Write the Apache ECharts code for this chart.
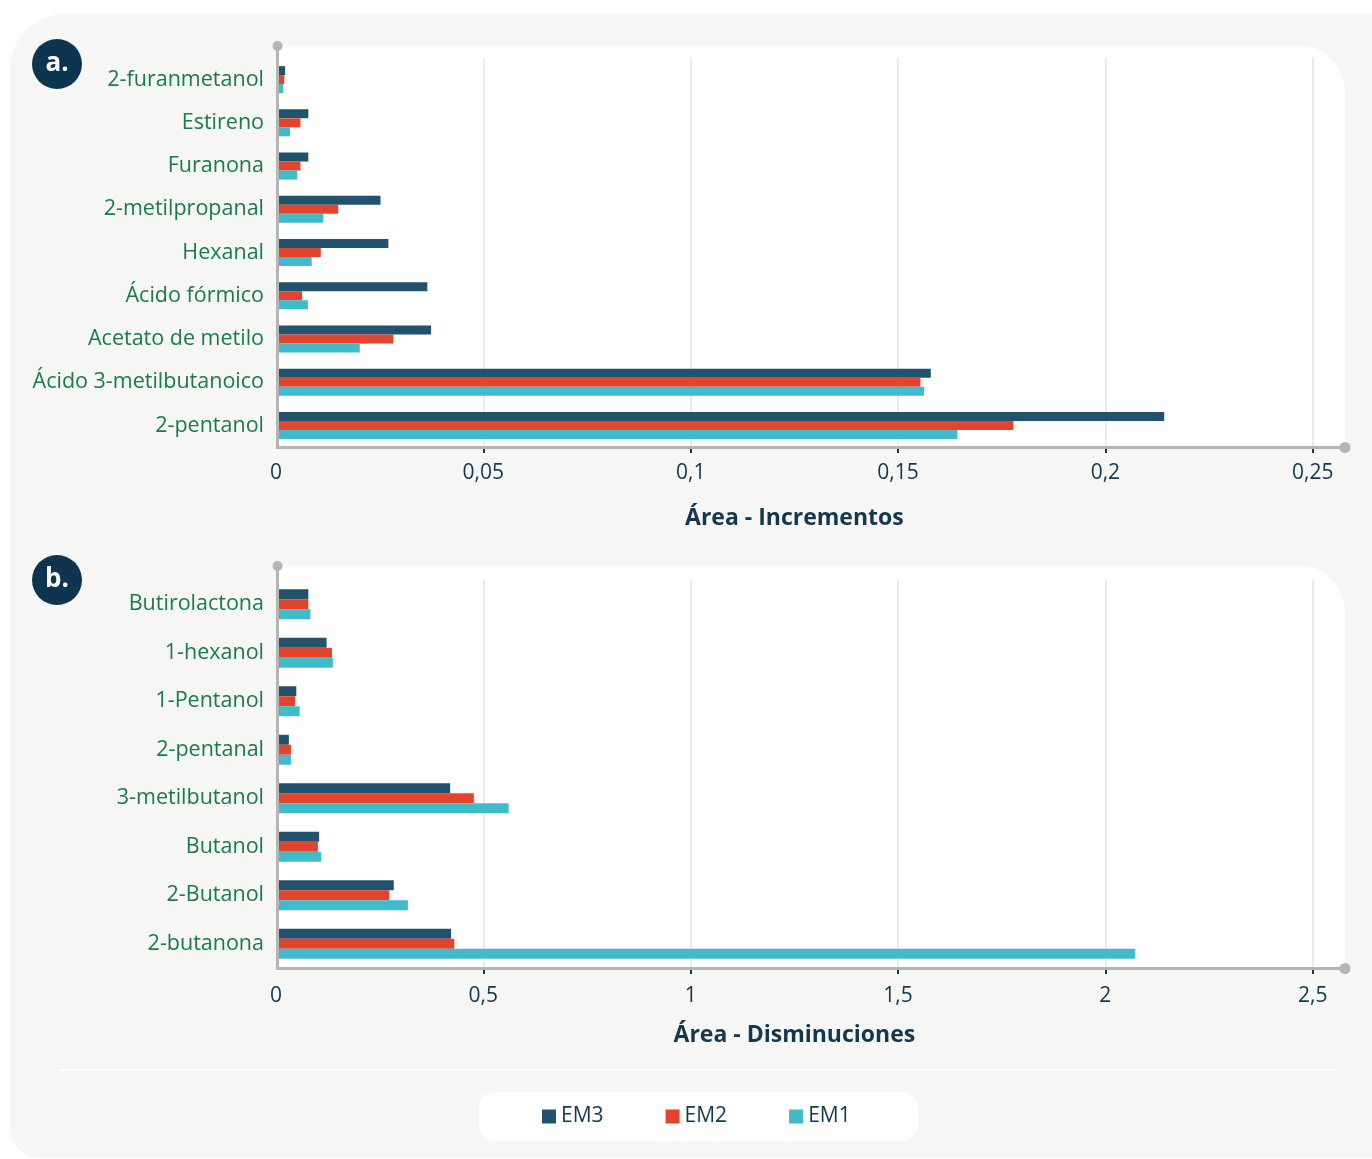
<!DOCTYPE html>
<html>
<head>
<meta charset="utf-8">
<script src="https://cdn.jsdelivr.net/npm/echarts@6/dist/echarts.min.js"></script>
<style>
  html, body { margin: 0; padding: 0; background: #ffffff; }
  #chart { width: 1372px; height: 1159px; }
</style>
</head>
<body>
<div id="chart"></div>
<script>
// ---- data ----
// categories listed bottom-to-top (first category sits on the x axis)
const incCategories = ['2-pentanol', 'Ácido 3-metilbutanoico', 'Acetato de metilo', 'Ácido fórmico',
  'Hexanal', '2-metilpropanal', 'Furanona', 'Estireno', '2-furanmetanol'];
const incEM3 = [0.2142, 0.1579, 0.0374, 0.0365, 0.0271, 0.0252, 0.0078, 0.0078, 0.0022];
const incEM2 = [0.1778, 0.1554, 0.0283, 0.0063, 0.0108, 0.0150, 0.0059, 0.0059, 0.0020];
const incEM1 = [0.1643, 0.1563, 0.0202, 0.0077, 0.0086, 0.0114, 0.0051, 0.0034, 0.0017];

const decCategories = ['2-butanona', '2-Butanol', 'Butanol', '3-metilbutanol',
  '2-pentanal', '1-Pentanol', '1-hexanol', 'Butirolactona'];
const decEM3 = [0.422, 0.284, 0.104, 0.420, 0.031, 0.049, 0.122, 0.078];
const decEM2 = [0.430, 0.273, 0.101, 0.477, 0.036, 0.046, 0.135, 0.078];
const decEM1 = [2.072, 0.318, 0.109, 0.561, 0.036, 0.057, 0.137, 0.083];

const incTicks = [0.05, 0.1, 0.15, 0.2, 0.25];
const decTicks = [0.5, 1, 1.5, 2, 2.5];
const legendOrder = ['EM3', 'EM2', 'EM1'];

const incTitle = 'Área - Incrementos';
const decTitle = 'Área - Disminuciones';

// ---- styling ----
const FONT = '"Open Sans", "Noto Sans", sans-serif';
const COLORS = { EM3: '#23526e', EM2: '#e2452c', EM1: '#3fbbcc' };
const AXIS_GRAY = '#b5b5b5';
const DARK = '#12384f';
const LABEL_GREEN = '#177a50';
const PANEL_GRAY = '#f6f6f4';

// plot geometry
const PLOT_LEFT = 276;
const PLOT_WIDTH = 1036.7;
const AXIS_X = 277.5;
const AXIS_END = 1345;
const A = { top: 58, height: 389, panelTop: 46 };
const B = { top: 580, height: 388, panelTop: 566 };

const fmt = v => String(v).replace('.', ',');

function xAxisFor(gridIndex, max, interval, ticks, name, nameGap, labelMargin) {
  return {
    type: 'value', gridIndex, min: 0, max, interval,
    name, nameLocation: 'middle', nameGap,
    nameTextStyle: { fontFamily: FONT, fontSize: 23, fontWeight: 'bold', color: DARK },
    axisLine: { show: false },
    axisTick: { show: true, length: 6, customValues: ticks, lineStyle: { color: DARK, width: 2 } },
    axisLabel: { fontFamily: FONT, fontSize: 21, color: DARK, margin: labelMargin, formatter: fmt },
    splitLine: { show: true, lineStyle: { color: '#ebebeb', width: 2 } }
  };
}

function yAxisFor(gridIndex, cats) {
  return {
    type: 'category', gridIndex, data: cats,
    axisLine: { show: false }, axisTick: { show: false },
    axisLabel: { fontFamily: FONT, fontSize: 21.5, color: LABEL_GREEN, margin: 12 }
  };
}

function barSeries(name, data, idx, width) {
  return {
    type: 'bar', name, data, xAxisIndex: idx, yAxisIndex: idx,
    barWidth: width, barGap: '0%',
    itemStyle: { color: COLORS[name] },
    emphasis: { disabled: true }
  };
}

function axisFrame(top, height, panelTop) {
  const bottom = top + height;
  return [
    { type: 'rect', z: -10, shape: { x: AXIS_X, y: panelTop, width: AXIS_END - AXIS_X, height: bottom - panelTop, r: [0, 45, 0, 0] },
      style: { fill: '#ffffff' } },
    { type: 'line', z: 100, shape: { x1: AXIS_X, y1: panelTop, x2: AXIS_X, y2: bottom + 0.5 },
      style: { stroke: AXIS_GRAY, lineWidth: 3 } },
    { type: 'line', z: 100, shape: { x1: AXIS_X - 1.5, y1: bottom + 0.5, x2: AXIS_END, y2: bottom + 0.5 },
      style: { stroke: AXIS_GRAY, lineWidth: 3 } },
    { type: 'circle', z: 101, shape: { cx: AXIS_X, cy: panelTop, r: 5 }, style: { fill: AXIS_GRAY } },
    { type: 'circle', z: 101, shape: { cx: AXIS_END, cy: bottom + 0.5, r: 5.5 }, style: { fill: AXIS_GRAY } }
  ];
}

function badge(cy, text) {
  return [
    { type: 'circle', z: 50, shape: { cx: 57, cy, r: 25 }, style: { fill: '#0e3550' } },
    { type: 'text', z: 51, x: 57, y: cy, style: { text, fill: '#ffffff', font: 'bold 26px ' + FONT,
      align: 'center', verticalAlign: 'middle' } }
  ];
}

const chart = echarts.init(document.getElementById('chart'), null, { renderer: 'canvas' });

chart.setOption({
  animation: false,
  backgroundColor: '#ffffff',
  textStyle: { fontFamily: FONT },
  legend: {
    data: legendOrder,
    left: 537, top: 1101,
    icon: 'rect', itemWidth: 14, itemHeight: 14, itemGap: 62,
    textStyle: { fontFamily: FONT, fontSize: 21, color: DARK },
    selectedMode: false
  },
  grid: [
    { left: PLOT_LEFT, top: A.top, width: PLOT_WIDTH, height: A.height, containLabel: false },
    { left: PLOT_LEFT, top: B.top, width: PLOT_WIDTH, height: B.height, containLabel: false }
  ],
  xAxis: [
    xAxisFor(0, 0.25, 0.05, incTicks, incTitle, 60, 16),
    xAxisFor(1, 2.5, 0.5, decTicks, decTitle, 56, 18)
  ],
  yAxis: [yAxisFor(0, incCategories), yAxisFor(1, decCategories)],
  // within each band the first series is drawn on top
  series: [
    barSeries('EM3', incEM3, 0, 9),
    barSeries('EM2', incEM2, 0, 9),
    barSeries('EM1', incEM1, 0, 9),
    barSeries('EM3', decEM3, 1, 10),
    barSeries('EM2', decEM2, 1, 10),
    barSeries('EM1', decEM1, 1, 10)
  ],
  graphic: [
    { type: 'rect', z: -20, shape: { x: 10, y: 14, width: 1420, height: 1144, r: [55, 55, 0, 30] },
      style: { fill: PANEL_GRAY } },
    ...axisFrame(A.top, A.height, A.panelTop),
    ...axisFrame(B.top, B.height, B.panelTop),
    ...badge(64, 'a.'),
    ...badge(580, 'b.'),
    { type: 'line', z: -5, shape: { x1: 60, y1: 1070, x2: 1337, y2: 1070 },
      style: { stroke: '#ffffff', lineWidth: 2 } },
    { type: 'rect', z: -5, shape: { x: 479, y: 1092, width: 439, height: 49, r: 16 },
      style: { fill: '#ffffff' } }
  ]
});
</script>
</body>
</html>
